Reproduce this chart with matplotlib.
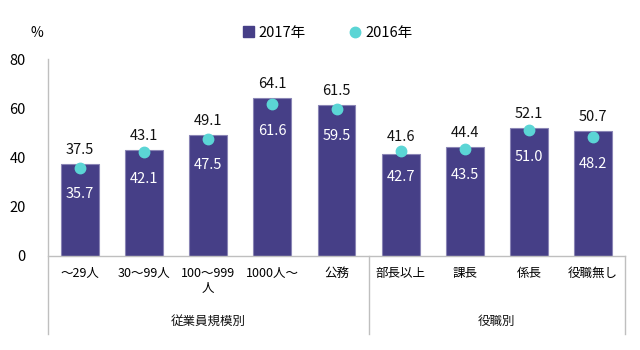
import matplotlib
matplotlib.use("Agg")
import matplotlib.pyplot as plt
from matplotlib.patches import Patch
from matplotlib.lines import Line2D

plt.rcParams['font.family'] = ['Noto Sans CJK JP', 'DejaVu Sans']

categories = ["～29人", "30～99人", "100～999\n人", "1000人～", "公務",
              "部長以上", "課長", "係長", "役職無し"]
values_2017 = [37.5, 43.1, 49.1, 64.1, 61.5, 41.6, 44.4, 52.1, 50.7]
values_2016 = [35.7, 42.1, 47.5, 61.6, 59.5, 42.7, 43.5, 51.0, 48.2]
groups = [("従業員規模別", 0, 4), ("役職別", 5, 8)]
yticks = [0, 20, 40, 60, 80]

bar_color = "#463F87"
dot_color = "#5BD5D5"
axis_color = "#BFBFBF"

fig = plt.figure(figsize=(6.4, 3.5), dpi=100)
ax = fig.add_axes([0.075, 0.2686, 0.9016, 0.5628])

x = list(range(len(categories)))
ax.bar(x, values_2017, width=0.59, color=bar_color, edgecolor="#8A85B5", linewidth=0.8, zorder=2)
ax.plot(x, values_2016, linestyle="none", marker="o", markersize=7.5,
        color=dot_color, zorder=3)

for xi, v17, v16 in zip(x, values_2017, values_2016):
    top = max(v17, v16)
    ax.annotate(f"{v17:.1f}", (xi, top), xytext=(0, 10), textcoords="offset points",
                ha="center", va="center", fontsize=10.5, color="#111111")
    ax.annotate(f"{v16:.1f}", (xi, v16), xytext=(0, -19), textcoords="offset points",
                ha="center", va="center", fontsize=10.5, color="white")

ax.set_xlim(-0.5, len(categories) - 0.5)
ax.set_ylim(0, 80)
ax.set_yticks(yticks)
ax.set_yticklabels([str(t) for t in yticks], fontsize=10.5)
ax.set_xticks(x)
ax.set_xticklabels(categories, fontsize=9, linespacing=1.2)
ax.tick_params(axis="y", length=0, pad=16)
ax.tick_params(axis="x", length=0, pad=8)

for s in ["top", "right"]:
    ax.spines[s].set_visible(False)
ax.spines["left"].set_visible(False)
ax.spines["bottom"].set_color(axis_color)
ax.spines["bottom"].set_linewidth(1.0)

# vertical axis and group separators extending below
ybot = -0.396
trans = ax.get_xaxis_transform()
for xpos in [-0.5, 4.5, 8.5]:
    ytop = 1.0 if xpos == -0.5 else 0.0
    ax.add_line(Line2D([xpos, xpos], [ytop, ybot], transform=trans, color=axis_color,
                       linewidth=1.0, clip_on=False, zorder=1))

for name, i0, i1 in groups:
    ax.text((i0 + i1) / 2, -0.33, name, transform=trans, ha="center", va="center",
            fontsize=9, color="#111111")

fig.text(0.058, 0.906, "%", ha="center", va="center", fontsize=10)

handles = [Patch(facecolor=bar_color, edgecolor=bar_color, label="2017年"),
           Line2D([], [], linestyle="none", marker="o", markersize=7.5, color=dot_color, label="2016年")]
fig.legend(handles=handles, loc="center", bbox_to_anchor=(0.512, 0.906), ncol=2,
           frameon=False, fontsize=10.5, handlelength=0.8, handletextpad=0.3,
           columnspacing=3.0, handleheight=0.8)

fig.savefig("out.png", dpi=100)
